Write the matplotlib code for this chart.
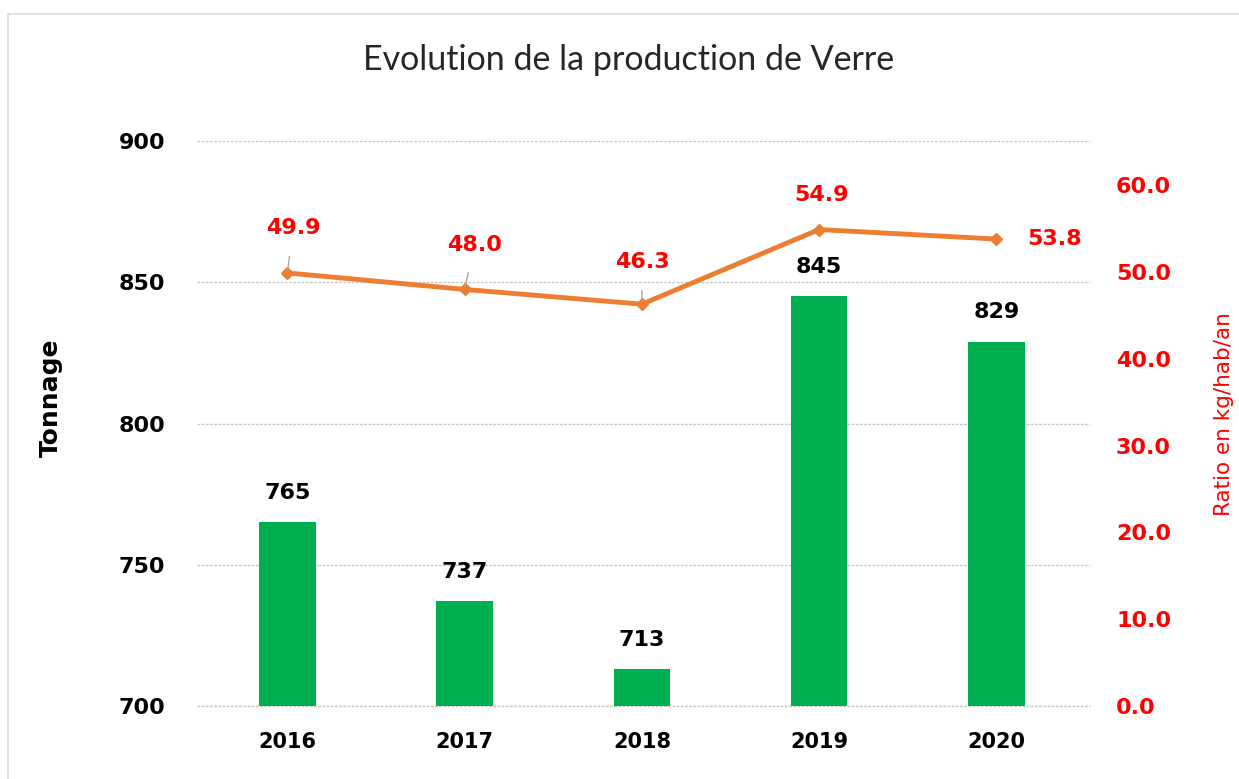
import matplotlib
matplotlib.use("Agg")
import matplotlib.pyplot as plt
from matplotlib.patches import Rectangle
from matplotlib.ticker import FormatStrFormatter

# -------------------------
# Data
# -------------------------
years = ["2016", "2017", "2018", "2019", "2020"]
tonnage = [765, 737, 713, 845, 829]
ratio = [49.9, 48.0, 46.3, 54.9, 53.8]

# label offsets (points) for the ratio labels: leader line for the first three
ratio_offsets = [(4, 32), (7, 32), (0, 30), (2, 25), (42, 0)]
leaders = [True, True, True, False, False]

GREEN = "#00B050"
ORANGE = "#ED7D31"
RED = "#FF0000"

fig = plt.figure(figsize=(12.39, 7.79), dpi=100)
ax = fig.add_axes([0.159, 0.0937, 0.721, 0.7253])
ax2 = ax.twinx()

# light frame around the chart area
fig.patches.append(Rectangle((8 / 1239, -0.01), 1.0, 1 - 14 / 779 + 0.01,
                             transform=fig.transFigure, fill=False,
                             edgecolor="#d9d9d9", linewidth=1.2))

x = list(range(len(years)))

ax.bar(x, [t - 700 for t in tonnage], bottom=700, width=0.32, color=GREEN, zorder=2)
ax.set_ylim(700, 900)
ax.set_xlim(-0.51, 4.53)
ax.set_yticks([700, 750, 800, 850, 900])
ax.grid(axis="y", color="#c8c8c8", linewidth=1.0, linestyle=(0, (2, 1)), zorder=0)
ax.axhline(700, color="#c8c8c8", linewidth=1.0, linestyle=(0, (2, 1)), zorder=1, clip_on=False)
ax.set_axisbelow(True)
ax.set_xticks(x)
ax.set_xticklabels(years)
ax.tick_params(axis="both", length=0, labelsize=16)
ax.tick_params(axis="y", pad=23)
ax.tick_params(axis="x", labelsize=15, pad=19)
for lab in ax.get_xticklabels() + ax.get_yticklabels():
    lab.set_fontweight("bold")

for xi, t in zip(x, tonnage):
    ax.annotate(str(t), (xi, t), xytext=(0, 21), textcoords="offset points",
                ha="center", va="center", fontsize=16, fontweight="bold", color="black")

ax.set_ylabel("Tonnage", fontsize=18, fontweight="bold")
ax.yaxis.set_label_coords(-0.150, 0.545)

# ratio line
ax2.plot(x, ratio, color=ORANGE, linewidth=3.5, marker="D", markersize=6,
         markerfacecolor=ORANGE, markeredgecolor=ORANGE, zorder=3)
ax2.set_ylim(0, 65.1)
ax2.set_yticks([0, 10, 20, 30, 40, 50, 60])
ax2.yaxis.set_major_formatter(FormatStrFormatter("%.1f"))
ax2.tick_params(axis="y", length=0, labelsize=16, labelcolor=RED, pad=18.5)
for lab in ax2.get_yticklabels():
    lab.set_fontweight("bold")
ax2.set_ylabel("Ratio en kg/hab/an", fontsize=15.5, color=RED)
ax2.yaxis.set_label_coords(1.139, 0.517)

for xi, r, off, lead in zip(x, ratio, ratio_offsets, leaders):
    ax2.annotate(f"{r:.1f}", (xi, r), xytext=off, textcoords="offset points",
                 ha="center", va="center", fontsize=16, fontweight="bold", color=RED,
                 arrowprops=dict(arrowstyle="-", color="#a6a6a6", lw=1.0,
                                 shrinkA=11, shrinkB=2) if lead else None)

for a in (ax, ax2):
    for s in a.spines.values():
        s.set_visible(False)

fig.text(0.507, 0.923, "Evolution de la production de Verre", ha="center", va="center",
         fontsize=24.5, family=["Lato", "DejaVu Sans"], color="#262626")

fig.savefig("out.png", dpi=100)
